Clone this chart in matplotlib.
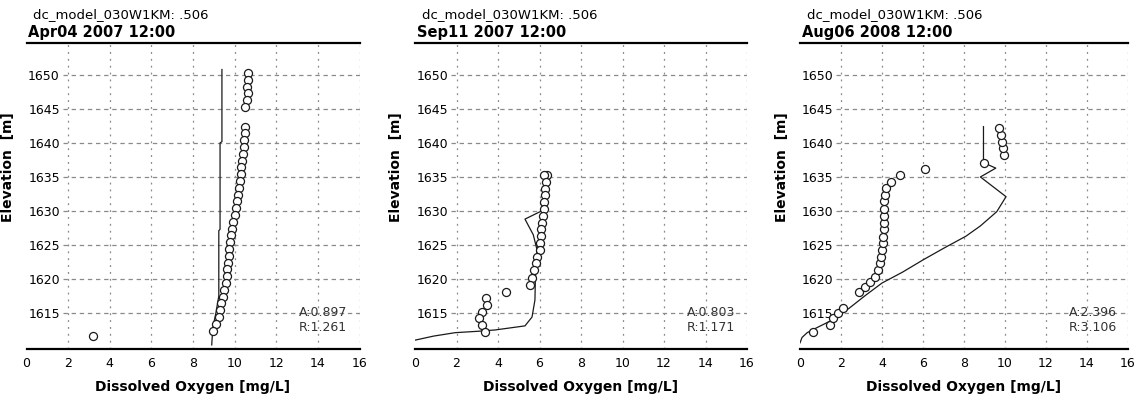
import numpy as np
import matplotlib
matplotlib.use('Agg')
import matplotlib.pyplot as plt

plt.rcParams['font.family'] = 'DejaVu Sans'

# ## Data

run_name = 'dc_model_030W1KM: .506'
dates = ['Apr04 2007 12:00', 'Sep11 2007 12:00', 'Aug06 2008 12:00']
stats = ['A:0.897\nR:1.261', 'A:0.803\nR:1.171', 'A:2.396\nR:3.106']

x_ticks = [0, 2, 4, 6, 8, 10, 12, 14, 16]
y_ticks = [1615, 1620, 1625, 1630, 1635, 1640, 1645, 1650]

# Apr04 2007
obs1_do = [10.62, 10.65, 10.6, 10.65, 10.6, 10.5,
           10.52, 10.5, 10.47, 10.44, 10.4, 10.37, 10.33, 10.3, 10.27, 10.23,
           10.18, 10.12, 10.08, 10.0, 9.9, 9.85, 9.82, 9.78, 9.75, 9.72,
           9.68, 9.65, 9.62, 9.57, 9.5, 9.42, 9.35, 9.3, 9.23, 9.12, 8.94, 3.19]
obs1_elev = [1650.3, 1649.3, 1648.3, 1647.3, 1646.3, 1645.3,
             1642.4, 1641.4, 1640.4, 1639.4, 1638.4, 1637.4, 1636.4, 1635.4, 1634.4, 1633.4,
             1632.4, 1631.4, 1630.4, 1629.4, 1628.4, 1627.4, 1626.4, 1625.4, 1624.4, 1623.4,
             1622.4, 1621.4, 1620.4, 1619.4, 1618.4, 1617.4, 1616.4, 1615.4, 1614.4, 1613.4, 1612.4, 1611.6]
mod1_do = [9.39, 9.39, 9.3, 9.3, 9.24, 9.24, 9.1, 8.95, 8.9]
mod1_elev = [1650.8, 1640.2, 1640.0, 1627.3, 1627.1, 1617.5, 1615.0, 1612.8, 1610.3]

# Sep11 2007
obs2_do = [6.36, 6.22, 6.3, 6.28, 6.25, 6.22, 6.2, 6.15, 6.1, 6.07, 6.05, 6.03, 6.0,
           5.9, 5.82, 5.75, 5.62, 5.55, 4.39, 3.4, 3.45, 3.23, 3.08, 3.23, 3.35]
obs2_elev = [1635.3, 1635.3, 1634.3, 1633.3, 1632.3, 1631.3, 1630.3, 1629.3, 1628.3, 1627.3,
             1626.3, 1625.3, 1624.3, 1623.2, 1622.4, 1621.3, 1620.1, 1619.1, 1618.1,
             1617.2, 1616.2, 1615.2, 1614.3, 1613.2, 1612.2]
mod2_do = [0.0, 0.9, 1.93, 3.0, 3.86, 5.3, 5.64, 5.78, 5.8, 5.88, 5.7, 5.3, 6.1, 6.2, 6.3]
mod2_elev = [1611.0, 1611.6, 1612.1, 1612.3, 1612.5, 1613.1, 1614.4, 1616.9, 1619.9, 1624.3,
             1626.5, 1628.8, 1630.0, 1633.0, 1635.7]

# Aug06 2008
obs3_do = [0.65, 1.46, 1.6, 1.85, 2.1, 2.9, 3.15, 3.4, 3.64, 3.8, 3.9, 3.95, 4.0, 4.05,
           4.05, 4.1, 4.12, 4.1, 4.1, 4.12, 4.15, 4.2, 4.42, 4.9, 6.12, 8.98,
           9.95, 9.9, 9.85, 9.8, 9.7]
obs3_elev = [1612.2, 1613.2, 1614.3, 1615.0, 1615.7, 1618.1, 1618.8, 1619.6, 1620.3, 1621.3,
             1622.3, 1623.3, 1624.3, 1625.3, 1626.2, 1627.3, 1628.2, 1629.3, 1630.3, 1631.4,
             1632.4, 1633.4, 1634.3, 1635.3, 1636.2, 1637.1,
             1638.2, 1639.3, 1640.2, 1641.2, 1642.2]
mod3_do = [0.0, 0.1, 0.35, 0.8, 1.6, 2.4, 3.2, 4.0, 5.0, 6.0, 7.0, 8.1, 8.8, 9.6, 10.05,
           8.8, 9.55, 8.95, 8.95]
mod3_elev = [1610.6, 1611.4, 1612.1, 1612.8, 1614.0, 1615.7, 1617.6, 1619.4, 1621.0, 1622.8,
             1624.5, 1626.3, 1627.8, 1629.9, 1632.1, 1635.0, 1636.3, 1637.1, 1642.4]

observations = [(obs1_do, obs1_elev), (obs2_do, obs2_elev), (obs3_do, obs3_elev)]
models = [(mod1_do, mod1_elev), (mod2_do, mod2_elev), (mod3_do, mod3_elev)]

# ## Plot

fig = plt.figure(figsize=(11.37, 4), dpi=100)
lefts = [26.5 / 1137, 415 / 1137, 800 / 1137]
widths = [333 / 1137, 332 / 1137, 328 / 1137]

for i in range(3):
    ax = fig.add_axes([lefts[i], 51 / 400, widths[i], 306 / 400])
    ax.set_xlim(0, 16)
    ax.set_ylim(1609.7, 1654.7)

    # grid: dashed horizontals start right of the labels, dotted verticals
    ax.hlines(y_ticks, 1.75, 16, colors='#8a8a8a', linewidth=0.9,
              linestyles=(0, (3.5, 3)), zorder=1)
    ax.vlines(x_ticks[1:], 1609.7, 1654.7, colors='#8a8a8a', linewidth=0.9,
              linestyles=(0, (1.5, 4)), zorder=1)

    mx, my = models[i]
    ax.plot(mx, my, color='#1a1a1a', linewidth=0.9, zorder=3)
    ox, oy = observations[i]
    ax.plot(ox, oy, linestyle='none', marker='o', markersize=5.8,
            markerfacecolor='white', markeredgecolor='#1a1a1a',
            markeredgewidth=0.9, zorder=4)

    for side in ['left', 'right']:
        ax.spines[side].set_visible(False)
    ax.spines['top'].set_linewidth(1.6)
    ax.spines['bottom'].set_linewidth(1.6)

    ax.set_xticks(x_ticks)
    ax.set_yticks(y_ticks)
    ax.tick_params(axis='x', length=0, pad=6, labelsize=9)
    ax.tick_params(axis='y', length=0, pad=-24, labelsize=9)
    for lab in ax.get_yticklabels():
        lab.set_horizontalalignment('right')

    ax.set_xlabel('Dissolved Oxygen [mg/L]', fontweight='bold', fontsize=10, labelpad=7)
    ax.set_ylabel('Elevation  [m]', fontweight='bold', fontsize=10)
    ax.yaxis.set_label_coords(-0.035, 0.595)

    ax.text(0.02, 1.092, run_name, transform=ax.transAxes, fontsize=9.5,
            ha='left', va='center')
    ax.text(0.005, 1.033, dates[i], transform=ax.transAxes, fontsize=10.5,
            fontweight='bold', ha='left', va='center')

    ax.text(13.1, 1614.0, stats[i], fontsize=9, color='#333333',
            ha='left', va='center', linespacing=1.25)

plt.savefig('out.png', dpi=100)
